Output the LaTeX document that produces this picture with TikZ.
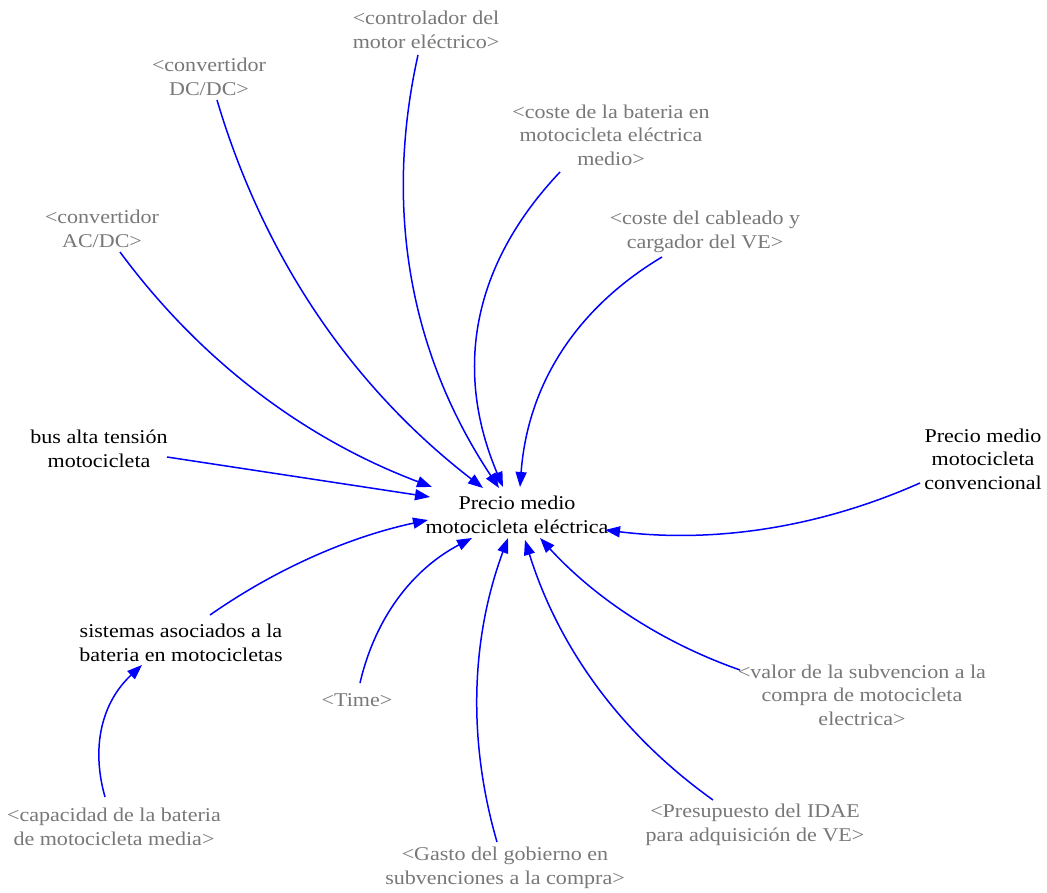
\documentclass[tikz,border=0pt]{standalone}
\usepackage{fontspec}
\setmainfont{Liberation Serif}[FakeStretch=1.13]
\usetikzlibrary{arrows.meta}
\definecolor{shadowgray}{RGB}{120,120,120}
\definecolor{linkblue}{RGB}{0,0,255}
\begin{document}
\begin{tikzpicture}[x=1pt,y=-1pt,
  lbl/.style={align=center, inner sep=0pt, font=\fontsize{19.5}{23.5}\selectfont},
  var/.style={lbl, text=black},
  shadow/.style={lbl, text=shadowgray},
  link/.style={draw=linkblue, line width=1.5pt, -{Triangle[length=15pt,width=11pt]}}
]
\useasboundingbox[fill=white] (0,0) rectangle (1047,893);

% nodes
\node[var] (c) at (517,515) {Precio medio\\motocicleta eléctrica};
\node[var] (bus) at (99,449) {bus alta tensión\\motocicleta};
\node[var] (conv) at (983,459) {Precio medio\\motocicleta\\convencional};
\node[var] (sist) at (181,643) {sistemas asociados a la\\bateria en motocicletas};
\node[shadow] (time) at (357,700) {<Time>};
\node[shadow] (cap) at (114,827) {<capacidad de la bateria\\de motocicleta media>};
\node[shadow] (gasto) at (505,868) {<Gasto del gobierno en\\subvenciones a la compra>};
\node[shadow] (presu) at (755,825) {<Presupuesto del IDAE\\para adquisición de VE>};
\node[shadow] (valor) at (862,695) {<valor de la subvencion a la\\compra de motocicleta\\electrica>};
\node[shadow] (cable) at (705,232) {<coste del cableado y\\cargador del VE>};
\node[shadow] (bat) at (611,135) {<coste de la bateria en\\motocicleta eléctrica\\medio>};
\node[shadow] (ctrl) at (426,30) {<controlador del\\motor eléctrico>};
\node[shadow] (dcdc) at (209,77) {<convertidor\\DC/DC>};
\node[shadow] (acdc) at (102,229) {<convertidor\\AC/DC>};

% connectors
\draw[link] ([shift={(18,23)}]acdc.center) .. controls (200,360.3) and (304,438.7) .. ([shift={(-85,-28)}]c.center);
\draw[link] ([shift={(8,23)}]dcdc.center) .. controls (263.9,258) and (352.5,387.3) .. ([shift={(-34,-27)}]c.center);
\draw[link] ([shift={(-8,25)}]ctrl.center) .. controls (383.2,211.5) and (411.2,355.8) .. ([shift={(-18,-27)}]c.center);
\draw[link] ([shift={(-51,37)}]bat.center) .. controls (472.5,264.5) and (453.2,369.5) .. ([shift={(-14,-28)}]c.center);
\draw[link] ([shift={(-43,25)}]cable.center) .. controls (574.9,309.1) and (527.6,385.8) .. ([shift={(3,-28)}]c.center);
\draw[link] ([shift={(68,8)}]bus.center) -- ([shift={(-87,-18)}]c.center);
\draw[link] ([shift={(-63,24)}]conv.center) .. controls (819.3,527.7) and (714.3,543.4) .. ([shift={(88,15)}]c.center);
\draw[link] ([shift={(29,-28)}]sist.center) .. controls (276.3,568.7) and (348.9,537) .. ([shift={(-89,5)}]c.center);
\draw[link] ([shift={(-9,-30)}]cap.center) .. controls (90.4,745.4) and (102.7,701.4) .. ([shift={(-39,22)}]sist.center);
\draw[link] ([shift={(3,-17)}]time.center) .. controls (375.2,617.6) and (412.5,569.3) .. ([shift={(-45,23)}]c.center);
\draw[link] ([shift={(-8,-26)}]gasto.center) .. controls (467.3,739.5) and (471,638.1) .. ([shift={(-9,23)}]c.center);
\draw[link] ([shift={(-42,-25)}]presu.center) .. controls (621.1,734.4) and (558.5,647.7) .. ([shift={(8,25)}]c.center);
\draw[link] ([shift={(-122,-25)}]valor.center) .. controls (662.3,642.7) and (595.6,598.7) .. ([shift={(23,23)}]c.center);
\end{tikzpicture}
\end{document}
